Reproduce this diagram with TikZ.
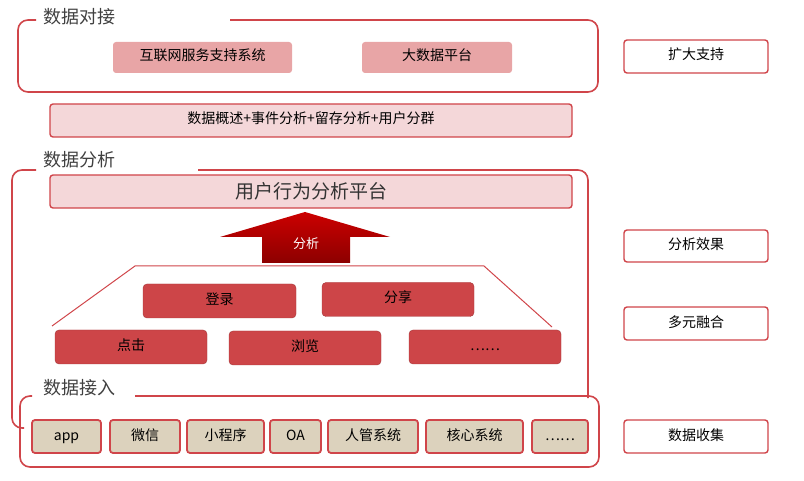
\documentclass[tikz,border=0pt]{standalone}
\usepackage{fontspec}
\setmainfont{Noto Sans CJK SC}
\usetikzlibrary{positioning}
\definecolor{frame}{HTML}{D0454A}
\definecolor{pinkfill}{HTML}{F4D7D9}
\definecolor{rosefill}{HTML}{E8A5A6}
\definecolor{darkbox}{HTML}{CD4548}
\definecolor{tanfill}{HTML}{DCD2BD}
\begin{document}
\begin{tikzpicture}[x=1pt, y=-1pt,
  outline/.style={draw=frame, line width=1.6pt, rounded corners=10pt},
  title/.style={font=\fontsize{18}{18}\selectfont, text=black!75, anchor=west},
  bar/.style={draw=frame, line width=1.4pt, fill=pinkfill, rounded corners=3pt},
  rose/.style={fill=rosefill, rounded corners=3pt},
  lbl/.style={font=\fontsize{14}{14}\selectfont, text height=10pt, text depth=3pt},
  redbox/.style={fill=darkbox, draw=darkbox!80!black, rounded corners=4pt, lbl},
  source/.style={fill=tanfill, draw=frame, line width=1.8pt, rounded corners=3pt},
  side/.style={draw=frame, line width=1.4pt, fill=white, rounded corners=3pt, lbl}
]
  \useasboundingbox (0,0) rectangle (804,481);

  % Data docking
  \draw[outline] (230,20) -- (598,20) -- (598,92) -- (18,92) -- (18,20) -- (36,20);
  \node[title] (dock) at (40,17) {数据对接};
  \fill[rose] (113,42) rectangle (292,73);
  \node[lbl] (internet) at (202.5,57.5) {互联网服务支持系统};
  \fill[rose] (362,42) rectangle (512,73);
  \node[lbl] (bigdata) at (437,57.5) {大数据平台};

  \draw[bar] (50,104) rectangle (572,137);
  \node[lbl] (summary) at (311,120.5) {数据概述+事件分析+留存分析+用户分群};

  % Data analysis
  \draw[outline] (36,170) -- (12,170) -- (12,428) -- (24,428);
  \draw[outline] (198,170) -- (588,170) -- (588,398);
  \node[title] (analysis) at (40,160) {数据分析};
  \draw[bar] (50,175) rectangle (572,208);
  \node[text=black!80] (platform) at (311,191.5) {\fontsize{19}{19}\selectfont 用户行为分析平台};

  \shade[top color=red!80!black, bottom color=red!55!black]
    (305,212) -- (390,237) -- (350,237) -- (350,263) -- (262,263) -- (262,237) -- (220,237) -- cycle;
  \node[text=white, font=\fontsize{13}{13}\selectfont] (arrowlbl) at (306,244) {分析};

  \draw[frame, line width=1pt] (52,326) -- (135,266) -- (484,266) -- (552,327);

  \node[redbox, minimum width=153pt, minimum height=34pt] (login) at (219.5,301) {登录};
  \node[redbox, minimum width=152pt, minimum height=34pt] (share) at (398,299.5) {分享};
  \node[redbox, minimum width=152pt, minimum height=34pt] (click) at (131,347) {点击};
  \node[redbox, minimum width=152pt, minimum height=34pt] (browse) at (305,348) {浏览};
  \node[redbox, minimum width=152pt, minimum height=34pt] (more) at (485,347) {……};

  % Data access
  \draw[outline] (135,396) -- (599,396) -- (599,467) -- (20,467) -- (20,396) -- (32,396);
  \node[title] (access) at (40,388) {数据接入};
  \foreach \xa/\xb/\txt/\nm in {32/101/app/app, 110/180/微信/wechat, 187/264/小程序/mini,
      270/321/OA/oa, 328/418/人管系统/hr, 426/523/核心系统/core, 532/588/……/etc} {
    \draw[source] (\xa,420) rectangle (\xb,453);
    \node[lbl] (\nm) at ({(\xa+\xb)/2},436.5) {\txt};
  }

  % Side labels
  \node[side, minimum width=144pt, minimum height=33pt] (expand) at (696,56.5) {扩大支持};
  \node[side, minimum width=144pt, minimum height=32pt] (effect) at (696,246) {分析效果};
  \node[side, minimum width=144pt, minimum height=33pt] (fusion) at (696,323.5) {多元融合};
  \node[side, minimum width=144pt, minimum height=33pt] (collect) at (696,436.5) {数据收集};
\end{tikzpicture}
\end{document}
